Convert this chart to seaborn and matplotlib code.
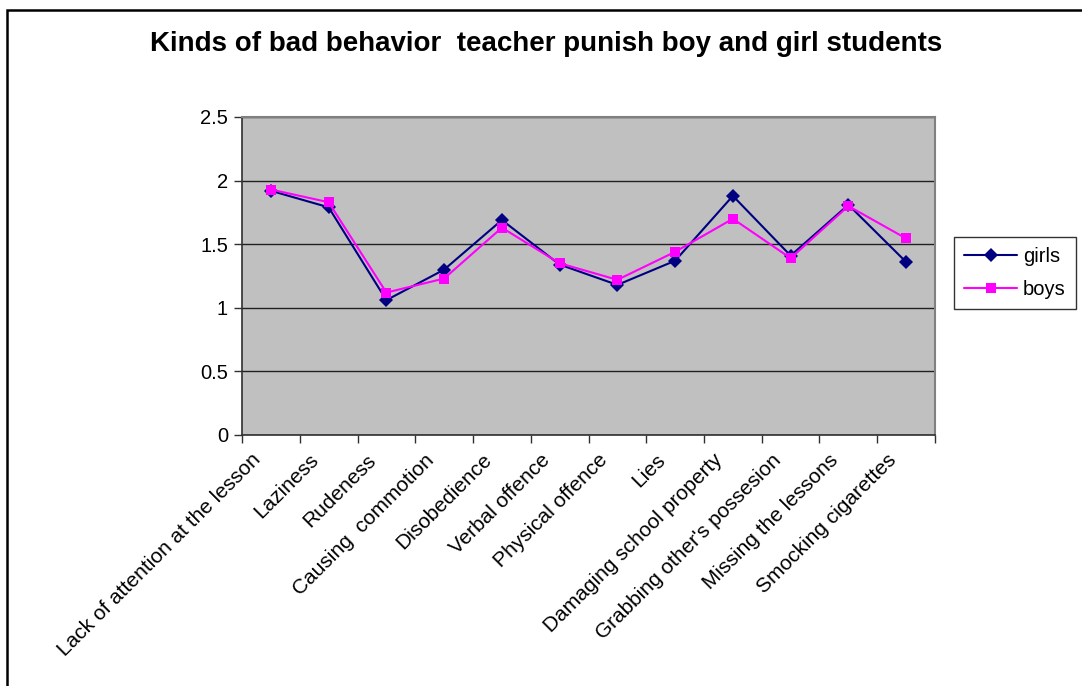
import matplotlib
matplotlib.use("Agg")
import matplotlib.pyplot as plt
from matplotlib.patches import Rectangle
from matplotlib.ticker import FixedLocator
import seaborn as sns
import pandas as pd

categories = [
    "Lack of attention at the lesson", "Laziness", "Rudeness",
    "Causing  commotion", "Disobedience", "Verbal offence",
    "Physical offence", "Lies", "Damaging school property",
    "Grabbing other's possesion", "Missing the lessons", "Smocking cigarettes",
]
girls = [1.92, 1.79, 1.06, 1.30, 1.69, 1.34, 1.18, 1.37, 1.88, 1.41, 1.81, 1.36]
boys = [1.93, 1.83, 1.12, 1.23, 1.63, 1.35, 1.22, 1.44, 1.70, 1.39, 1.80, 1.545]
y_ticks = [0, 0.5, 1, 1.5, 2, 2.5]
y_tick_labels = ["0", "0.5", "1", "1.5", "2", "2.5"]
title = "Kinds of bad behavior  teacher punish boy and girl students"

sns.set_theme(style="white")
plt.rcParams["font.family"] = ["Liberation Sans", "DejaVu Sans"]
plt.rcParams["text.color"] = "black"
plt.rcParams["xtick.color"] = "black"
plt.rcParams["ytick.color"] = "black"

df = pd.DataFrame({
    "behavior": categories * 2,
    "score": girls + boys,
    "group": ["girls"] * len(girls) + ["boys"] * len(boys),
})
df["pos"] = list(range(len(categories))) * 2

fig = plt.figure(figsize=(10.82, 6.86), dpi=100)
ax = fig.add_axes([242 / 1082, 1 - 435 / 686, (935 - 242) / 1082, (435 - 117) / 686])
ax.set_facecolor("#C0C0C0")

sns.lineplot(
    data=df, x="pos", y="score", hue="group", style="group",
    hue_order=["girls", "boys"], style_order=["girls", "boys"],
    palette={"girls": "#000080", "boys": "#FF00FF"},
    markers={"girls": "D", "boys": "s"}, dashes=False,
    markersize=7, linewidth=1.5, markeredgewidth=0,
    ax=ax, legend=True, zorder=3,
)

ax.set_xlim(-0.5, len(categories) - 0.5)
ax.set_ylim(0, 2.5)
ax.set_yticks(y_ticks)
ax.set_yticklabels(y_tick_labels, fontsize=14.5)
ax.yaxis.grid(True, color="#202020", linewidth=1.0)
ax.set_axisbelow(True)

# rotated category labels end a little left of each category centre;
# the tick marks sit on the category boundaries
ax.set_xticks([i - 0.34 for i in range(len(categories))])
ax.set_xticklabels(categories, rotation=45, ha="right", rotation_mode="anchor", fontsize=15)
ax.xaxis.set_minor_locator(FixedLocator([i - 0.5 for i in range(len(categories) + 1)]))
ax.tick_params(axis="x", which="major", length=0, pad=11)
ax.tick_params(axis="x", which="minor", length=6, width=1, color="#303030", direction="out", bottom=True)
ax.tick_params(axis="y", which="major", length=6, width=1, color="#303030", direction="out", left=True, pad=4)
ax.set_xlabel("")
ax.set_ylabel("")

for side in ["left", "bottom"]:
    ax.spines[side].set_color("#303030")
    ax.spines[side].set_linewidth(1.2)
for side in ["top", "right"]:
    ax.spines[side].set_color("#808080")
    ax.spines[side].set_linewidth(1.5)

handles, labels = ax.get_legend_handles_labels()
leg = ax.legend(
    handles, labels, loc="center left", bbox_to_anchor=(1.028, 0.51),
    frameon=True, fancybox=False, fontsize=14.5, handlelength=2.6,
    borderpad=0.5, labelspacing=0.7, handletextpad=0.3, borderaxespad=0,
)
leg.get_frame().set_edgecolor("#000000")
leg.get_frame().set_linewidth(1.0)

fig.text(0.505, 1 - 44 / 686, title, ha="center", va="center",
         fontsize=20, fontweight="bold", color="black")

# outer chart frame
fig.patches.append(Rectangle((7 / 1082, -0.1), 1.2, 1.1 - 10 / 686,
                             transform=fig.transFigure, fill=False,
                             edgecolor="black", linewidth=1.8, zorder=10))

fig.savefig("out.png", dpi=100)
